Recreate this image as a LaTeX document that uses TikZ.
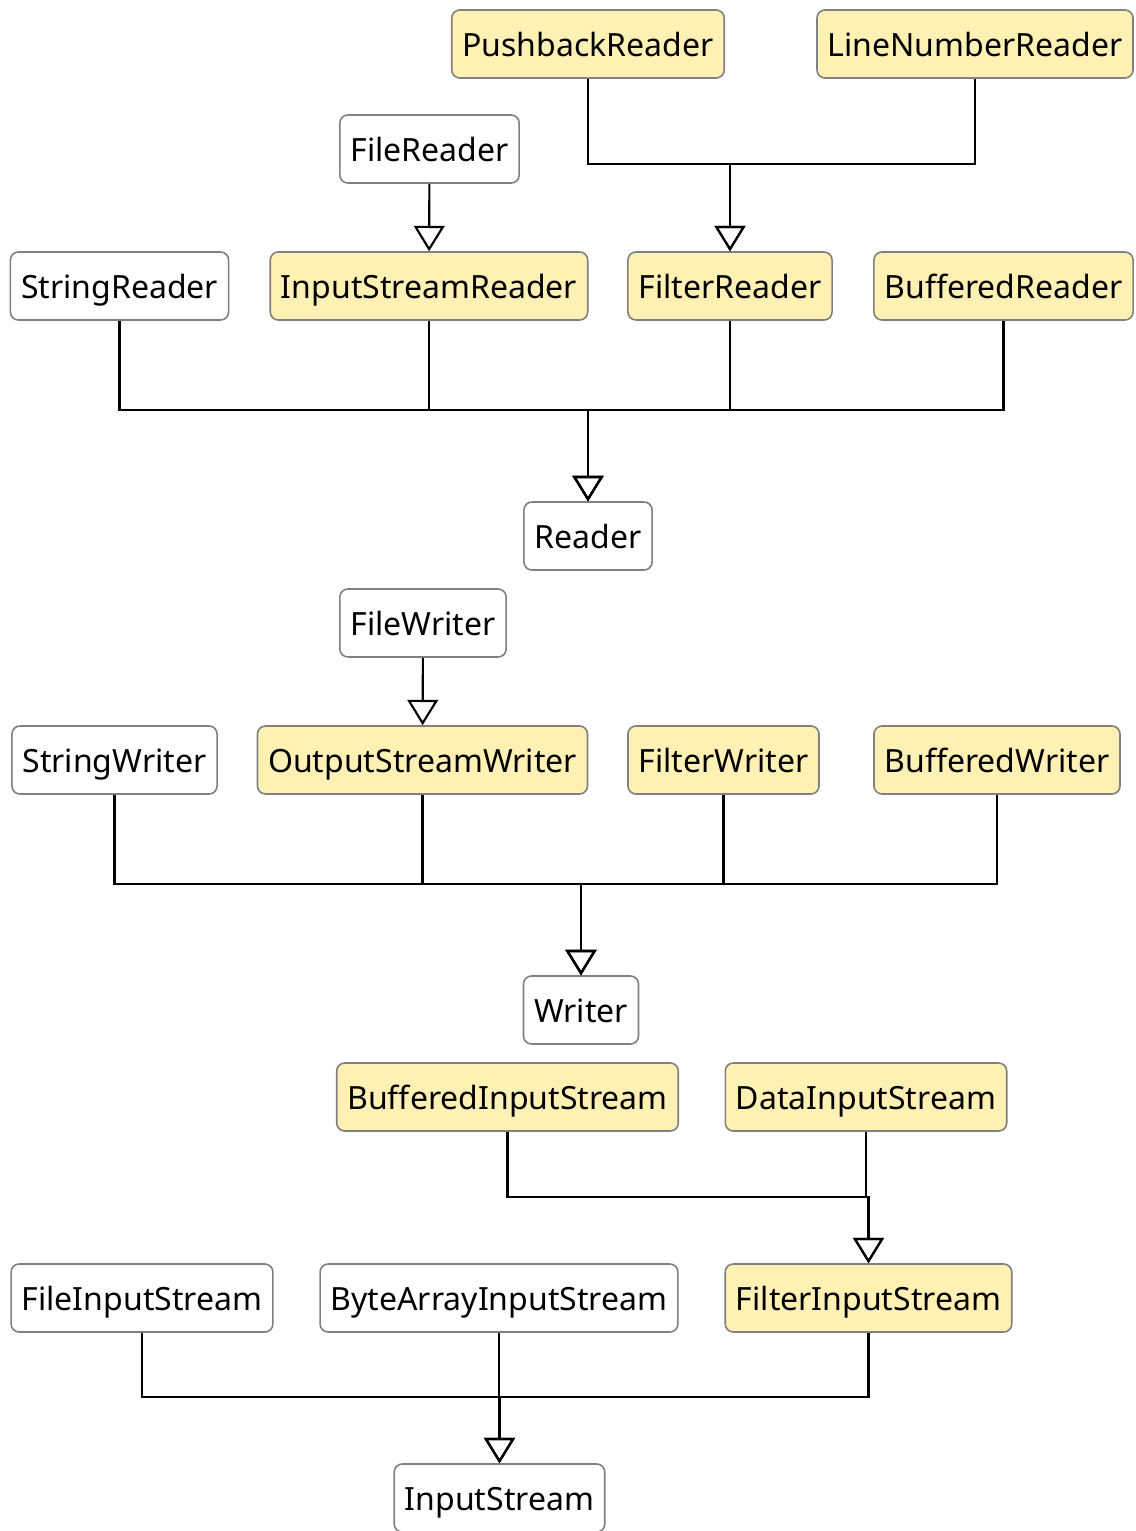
\documentclass[tikz,border=0pt]{standalone}
\usepackage{fontspec}
\setmainfont{Noto Sans}
\usetikzlibrary{arrows.meta, positioning}

\definecolor{paleyellow}{RGB}{255,241,179}
\definecolor{boxgray}{RGB}{128,128,128}

\begin{document}
\begin{tikzpicture}[
  x=0.75pt, y=-0.75pt,
  plain/.style={
    rectangle,
    draw=boxgray,
    line width=1.2pt,
    rounded corners=6pt,
    fill=white,
    minimum height=51pt,
    text height=21pt,
    text depth=2pt,
    inner xsep=8pt,
    font=\fontsize{24}{28}\selectfont
  },
  impl/.style={plain, fill=paleyellow},
  extends/.style={-{Triangle[open, length=19pt, width=23pt]}, line width=1.6pt, draw=black}
]
\useasboundingbox (0,0) rectangle (1135,1531);

% Reader hierarchy
\node[impl]  (pushback)   at (588,44)    {PushbackReader};
\node[impl]  (linenumber) at (975,44)    {LineNumberReader};
\node[plain] (filereader) at (429.5,149) {FileReader};
\node[plain] (stringreader) at (119.5,286) {StringReader};
\node[impl]  (isreader)   at (429,286)   {InputStreamReader};
\node[impl]  (filterreader) at (730,286) {FilterReader};
\node[impl]  (bufreader)  at (1003.5,286) {BufferedReader};
\node[plain] (reader)     at (588,536)   {Reader};

\coordinate (frbus) at (730,164);
\coordinate (rbus) at (588,410);

\draw[extends] (pushback.south) |- (frbus) -- (filterreader.north);
\draw[extends] (linenumber.south) |- (frbus) -- (filterreader.north);
\draw[extends] (filereader) -- (isreader);
\draw[extends] (stringreader.south) |- (rbus) -- (reader.north);
\draw[extends] (isreader.south) |- (rbus) -- (reader.north);
\draw[extends] (filterreader.south) |- (rbus) -- (reader.north);
\draw[extends] (bufreader.south) |- (rbus) -- (reader.north);

% Writer hierarchy
\node[plain] (filewriter) at (423,623)   {FileWriter};
\node[plain] (stringwriter) at (114.5,760) {StringWriter};
\node[impl]  (oswriter)   at (422.5,760) {OutputStreamWriter};
\node[impl]  (filterwriter) at (723.5,760) {FilterWriter};
\node[impl]  (bufwriter)  at (997,760)   {BufferedWriter};
\node[plain] (writer)     at (581,1010)  {Writer};

\coordinate (wbus) at (581,884);

\draw[extends] (filewriter) -- (oswriter);
\draw[extends] (stringwriter.south) |- (wbus) -- (writer.north);
\draw[extends] (oswriter.south) |- (wbus) -- (writer.north);
\draw[extends] (filterwriter.south) |- (wbus) -- (writer.north);
\draw[extends] (bufwriter.south) |- (wbus) -- (writer.north);

% InputStream hierarchy
\node[impl]  (bufis)      at (507.5,1097) {BufferedInputStream};
\node[impl]  (datais)     at (866,1097)   {DataInputStream};
\node[plain] (fileis)     at (142,1298)   {FileInputStream};
\node[plain] (byteis)     at (499,1298)   {ByteArrayInputStream};
\node[impl]  (filteris)   at (868.5,1298) {FilterInputStream};
\node[plain] (inputstream) at (499.5,1498) {InputStream};

\coordinate (fisbus) at (868.5,1197);
\coordinate (isbus) at (499.5,1397);

\draw[extends] (bufis.south) |- (fisbus) -- (filteris.north);
\draw[extends] (datais.south) |- (fisbus) -- (filteris.north);
\draw[extends] (fileis.south) |- (isbus) -- (inputstream.north);
\draw[extends] (byteis.south) |- (isbus) -- (inputstream.north);
\draw[extends] (filteris.south) |- (isbus) -- (inputstream.north);

\end{tikzpicture}
\end{document}
